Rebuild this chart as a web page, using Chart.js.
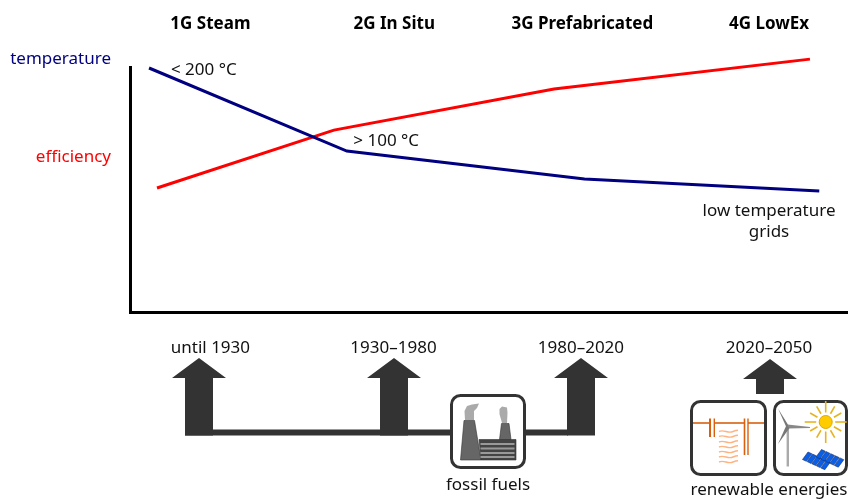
<!DOCTYPE html>
<html>
<head>
<meta charset="utf-8">
<title>District heating generations</title>
<style>
  html, body { margin: 0; padding: 0; background: #fff; }
  canvas { display: block; }
</style>
</head>
<body>
<canvas id="grafico" width="848" height="500"></canvas>
<script src="https://cdn.jsdelivr.net/npm/chart.js@4/dist/chart.umd.min.js"></script>
<script>
// generations (both axes are relative, 0-100)
const generations = ['1G Steam', '2G In Situ', '3G Prefabricated', '4G LowEx'];
const periods = ['until 1930', '1930–1980', '1980–2020', '2020–2050'];
const generationPos = [11.2, 36.8, 63, 89];
const periodPos = [11.2, 36.7, 62.8, 89];

const temperatureX = [2.65, 30.2, 63.3, 96];
const temperature = [99.2, 65.5, 54.2, 49.3];
const efficiencyX = [3.76, 28.4, 59.05, 94.7];
const efficiency = [50.5, 74, 90.7, 102.8];

const seriesNames = ['temperature', 'efficiency'];
const seriesTicks = [102.9, 63.2];
const seriesColors = ['#000080', '#ff0000'];

const notes = [
  { text: '< 200 °C', x: 5.7, y: 98.4, align: 'left' },
  { text: '> 100 °C', x: 31.1, y: 69.4, align: 'left' },
  { text: 'low temperature', x: 89, y: 41.2, align: 'center' },
  { text: 'grids', x: 89, y: 32.7, align: 'center' }
];

const FONT = '"Noto Sans", sans-serif';
const INK = '#111';
const DARK = '#333';

function roundBox(ctx, x, y, w, h) {
  ctx.beginPath();
  ctx.roundRect(x, y, w, h, 9);
  ctx.fillStyle = '#fff';
  ctx.fill();
  ctx.lineWidth = 3;
  ctx.strokeStyle = DARK;
  ctx.stroke();
}

function poly(ctx, pts, fill, stroke) {
  ctx.beginPath();
  pts.forEach((p, i) => i ? ctx.lineTo(p[0], p[1]) : ctx.moveTo(p[0], p[1]));
  ctx.closePath();
  ctx.fillStyle = fill;
  ctx.fill();
  if (stroke) {
    ctx.strokeStyle = stroke;
    ctx.lineWidth = 0.6;
    ctx.stroke();
  }
}

function arrow(ctx, cx, tip, bottom) {
  poly(ctx, [[cx, tip], [cx + 27, tip + 20], [cx + 14, tip + 20], [cx + 14, bottom],
             [cx - 14, bottom], [cx - 14, tip + 20], [cx - 27, tip + 20]], DARK);
}

function line(ctx, x1, y1, x2, y2, color, w) {
  ctx.beginPath();
  ctx.moveTo(x1, y1);
  ctx.lineTo(x2, y2);
  ctx.strokeStyle = color;
  ctx.lineWidth = w;
  ctx.stroke();
}

function factory(ctx) {
  // smoke
  poly(ctx, [[465, 420], [464.5, 411], [467, 406], [472, 404.5], [479, 403.5], [477, 408], [474, 411], [474, 420]], '#aaa');
  poly(ctx, [[502, 423], [499.5, 414], [499.5, 409], [502, 406.5], [507, 407.5], [507.5, 413], [507, 423]], '#aaa');
  // chimneys
  poly(ctx, [[460.5, 460], [464, 420.5], [474.5, 420.5], [481, 460]], '#666', '#333');
  poly(ctx, [[499.5, 439.5], [501.5, 423.5], [509, 423.5], [511, 439.5]], '#666', '#333');
  // building
  poly(ctx, [[479, 439.5], [516, 439.5], [516, 460], [481, 460]], '#444', '#333');
  ctx.fillStyle = '#999';
  [443, 447.5, 452, 456].forEach(y => ctx.fillRect(480.5, y, 34, 2));
}

function heatIcon(ctx) {
  const c = '#d9600f';
  line(ctx, 693, 423, 710, 423, c, 1.6);
  line(ctx, 714, 423, 745, 423, c, 1.6);
  line(ctx, 748, 423, 764, 423, c, 1.6);
  line(ctx, 710, 418.5, 710, 437, c, 2);
  line(ctx, 714.3, 418.5, 714.3, 437, c, 1.4);
  line(ctx, 744.5, 418.5, 744.5, 455, c, 1.6);
  line(ctx, 748, 418.5, 748, 455, c, 1.4);
  ctx.strokeStyle = '#ffb380';
  ctx.lineWidth = 1.4;
  [431.5, 436.5, 442, 447, 452, 457, 462].forEach(y => {
    ctx.beginPath();
    ctx.moveTo(719, y);
    ctx.bezierCurveTo(724, y - 2.5, 728, y + 2.5, 733, y);
    ctx.quadraticCurveTo(736, y - 1.2, 738, y - 1.2);
    ctx.stroke();
  });
}

function solarStrip(ctx, ox, oy) {
  // one strip of cells, running down to the right
  const ux = 4.6, uy = 2.1, vx = 5.5, vy = -7.5;
  for (let i = 0; i < 5; i++) {
    const ax = ox + ux * i, ay = oy + uy * i;
    poly(ctx, [[ax, ay], [ax + ux - 0.7, ay + uy - 0.3], [ax + ux - 0.7 + vx, ay + uy - 0.3 + vy], [ax + vx, ay + vy]], '#0a5fe8', '#14316e');
  }
}

function windSunIcon(ctx) {
  // turbine
  line(ctx, 787.8, 427, 787.8, 466.5, '#aaa', 2.4);
  poly(ctx, [[788.8, 426], [778, 408.5], [786.5, 427.5]], '#777');
  poly(ctx, [[787.5, 424.5], [810, 427], [810, 428], [788, 428.5]], '#888');
  poly(ctx, [[786.5, 425], [778, 444], [789.5, 428]], '#777');
  // sun
  const sx = 825.7, sy = 422;
  for (let a = 0; a < 12; a++) {
    const t = a * Math.PI / 6;
    const r = a % 3 === 0 ? 21 : 18;
    line(ctx, sx + Math.cos(t) * 9.5, sy + Math.sin(t) * 9.5, sx + Math.cos(t) * r, sy + Math.sin(t) * r, '#e6b422', 1.6);
  }
  ctx.beginPath();
  ctx.arc(sx, sy, 6.5, 0, Math.PI * 2);
  ctx.fillStyle = '#ffcc00';
  ctx.fill();
  ctx.strokeStyle = '#e0a800';
  ctx.lineWidth = 1;
  ctx.stroke();
  // panels
  solarStrip(ctx, 802.5, 459.5);
  solarStrip(ctx, 816, 457);
}

const extras = {
  id: 'extras',
  beforeDatasetsDraw(chart) {
    const { ctx, scales } = chart;
    ctx.save();
    // axis lines
    const bottom = scales.y.getPixelForValue(0);
    const top = scales.y.getPixelForValue(100);
    const left = scales.x.getPixelForValue(0);
    line(ctx, left + 0.5, top, left + 0.5, bottom + 1.5, '#000', 3);
    line(ctx, left - 1, bottom, chart.width, bottom, '#000', 3);
    // arrows and fossil fuel bus
    ctx.fillStyle = DARK;
    ctx.fillRect(185, 429.5, 383, 6);
    arrow(ctx, 199, 358, 435.5);
    arrow(ctx, 394, 358, 435.5);
    arrow(ctx, 581, 358, 435.5);
    arrow(ctx, 770, 359, 394);
    roundBox(ctx, 451.5, 395.5, 73, 72);
    factory(ctx);
    roundBox(ctx, 691.5, 401.5, 74, 73);
    heatIcon(ctx);
    roundBox(ctx, 774.5, 401.5, 72, 73);
    windSunIcon(ctx);
    ctx.restore();
  },
  afterDatasetsDraw(chart) {
    const { ctx, scales } = chart;
    ctx.save();
    ctx.font = '17px ' + FONT;
    ctx.fillStyle = INK;
    ctx.textBaseline = 'middle';
    notes.forEach(n => {
      ctx.textAlign = n.align;
      ctx.fillText(n.text, scales.x.getPixelForValue(n.x), scales.y.getPixelForValue(n.y));
    });
    ctx.textAlign = 'center';
    ctx.fillText('fossil fuels', 488, 485);
    ctx.fillText('renewable energies', 769, 490.5);
    ctx.restore();
  }
};

const pairs = (xs, ys) => xs.map((x, i) => ({ x: x, y: ys[i] }));

new Chart(document.getElementById('grafico').getContext('2d'), {
  type: 'scatter',
  data: {
    datasets: [
      { label: seriesNames[0], data: pairs(temperatureX, temperature), borderColor: seriesColors[0], borderWidth: 3, showLine: true, pointRadius: 0, tension: 0 },
      { label: seriesNames[1], data: pairs(efficiencyX, efficiency), borderColor: seriesColors[1], borderWidth: 3, showLine: true, pointRadius: 0, tension: 0 }
    ]
  },
  options: {
    responsive: false,
    animation: false,
    layout: { padding: 0 },
    plugins: { legend: { display: false }, tooltip: { enabled: false } },
    scales: {
      x: {
        type: 'linear', position: 'bottom', min: 0, max: 100,
        grid: { display: false }, border: { display: false },
        afterBuildTicks(s) { s.ticks = periodPos.map(v => ({ value: v })); },
        afterFit(s) { s.height = 187.5; },
        ticks: {
          autoSkip: false, maxRotation: 0, padding: 17, color: INK,
          font: { family: FONT, size: 17 },
          callback: (v) => periods[periodPos.indexOf(v)]
        }
      },
      xTop: {
        type: 'linear', axis: 'x', position: 'top', min: 0, max: 100,
        grid: { display: false }, border: { display: false },
        afterBuildTicks(s) { s.ticks = generationPos.map(v => ({ value: v })); },
        afterFit(s) { s.height = 50; },
        ticks: {
          autoSkip: false, maxRotation: 0, padding: 8, color: '#000',
          font: { family: FONT, size: 17, weight: 'bold' },
          callback: (v) => generations[generationPos.indexOf(v)]
        }
      },
      y: {
        type: 'linear', position: 'left', min: 0, max: 106.5,
        grid: { display: false }, border: { display: false },
        afterBuildTicks(s) { s.ticks = seriesTicks.map(v => ({ value: v })); },
        afterFit(s) { s.width = 130; },
        ticks: {
          autoSkip: false, padding: 11,
          font: { family: FONT, size: 17 },
          color: (c) => seriesColors[seriesTicks.indexOf(c.tick.value)],
          callback: (v) => seriesNames[seriesTicks.indexOf(v)]
        }
      }
    }
  },
  plugins: [extras]
});
</script>
</body>
</html>
